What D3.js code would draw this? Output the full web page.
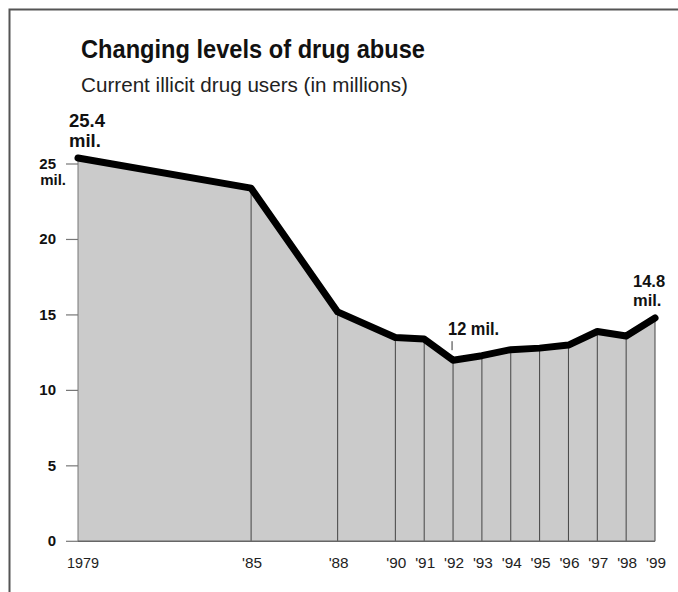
<!DOCTYPE html>
<html>
<head>
<meta charset="utf-8">
<script src="https://cdn.jsdelivr.net/npm/d3@7"></script>
<style>
  html, body { margin: 0; padding: 0; background: #fff; }
  svg { display: block; font-family: "Liberation Sans", Arial, Helvetica, sans-serif; }
</style>
</head>
<body>
<svg id="chart" width="678" height="592"></svg>
<script>
// Survey years and current illicit drug users (millions)
const years = [1979, 1985, 1988, 1990, 1991, 1992, 1993, 1994, 1995, 1996, 1997, 1998, 1999];
const users = [25.4, 23.4, 15.2, 13.5, 13.4, 12.0, 12.3, 12.7, 12.8, 13.0, 13.9, 13.6, 14.8];
const yearLabels = ["1979", "'85", "'88", "'90", "'91", "'92", "'93", "'94", "'95", "'96", "'97", "'98", "'99"];
const yTicks = [0, 5, 10, 15, 20, 25];

const data = years.map((yr, i) => ({ year: yr, value: users[i], label: yearLabels[i] }));

const svg = d3.select("#chart");

const x = d3.scaleLinear().domain([1979, 1999]).range([78, 655]);
const y = d3.scaleLinear().domain([0, 25]).range([541.3, 164]);

// Frame: rule along the top and left edge
svg.append("path")
  .attr("d", "M9.5,592 V9.5 H678")
  .attr("fill", "none")
  .attr("stroke", "#555")
  .attr("stroke-width", 2);

// Title and subtitle
svg.append("text")
  .attr("x", 81).attr("y", 58)
  .attr("font-size", 25).attr("font-weight", "bold")
  .attr("textLength", 344).attr("lengthAdjust", "spacingAndGlyphs")
  .attr("fill", "#111")
  .text("Changing levels of drug abuse");

svg.append("text")
  .attr("x", 81).attr("y", 92)
  .attr("font-size", 20.5)
  .attr("textLength", 327).attr("lengthAdjust", "spacingAndGlyphs")
  .attr("fill", "#222")
  .text("Current illicit drug users (in millions)");

// Shaded area under the curve
const area = d3.area()
  .x(d => x(d.year))
  .y0(y(0))
  .y1(d => y(d.value));

svg.append("path")
  .datum(data)
  .attr("d", area)
  .attr("fill", "#cbcbcb");

// Drop lines at each survey year
svg.append("g")
  .selectAll("line")
  .data(data)
  .join("line")
  .attr("x1", d => x(d.year)).attr("x2", d => x(d.year))
  .attr("y1", d => y(d.value)).attr("y2", y(0))
  .attr("stroke", d => d.year === 1979 ? "#777" : "#444")
  .attr("stroke-width", 1);

// Baseline
svg.append("line")
  .attr("x1", x(1979)).attr("x2", x(1999))
  .attr("y1", y(0)).attr("y2", y(0))
  .attr("stroke", "#666").attr("stroke-width", 1.5);

// Y axis ticks and labels
const yAxis = svg.append("g");
yAxis.selectAll("line")
  .data(yTicks)
  .join("line")
  .attr("x1", 66).attr("x2", x(1979))
  .attr("y1", d => y(d)).attr("y2", d => y(d))
  .attr("stroke", "#777").attr("stroke-width", 1.2);

yAxis.selectAll("text")
  .data(yTicks)
  .join("text")
  .attr("x", 56)
  .attr("y", d => y(d) + 5)
  .attr("text-anchor", "end")
  .attr("font-size", 15).attr("font-weight", "bold")
  .attr("fill", "#111")
  .text(d => d);

yAxis.append("text")
  .attr("x", 66).attr("y", y(25) + 21)
  .attr("text-anchor", "end")
  .attr("font-size", 15).attr("font-weight", "bold")
  .attr("fill", "#111")
  .text("mil.");

// X axis labels
svg.append("g")
  .selectAll("text")
  .data(data)
  .join("text")
  .attr("x", d => x(d.year) + (d.year === 1979 ? 5 : 1))
  .attr("y", 568)
  .attr("text-anchor", "middle")
  .attr("font-size", 15)
  .attr("textLength", d => d.year === 1979 ? 32 : 20)
  .attr("lengthAdjust", "spacingAndGlyphs")
  .attr("fill", "#222")
  .text(d => d.label);

// Trend line
const line = d3.line()
  .x(d => x(d.year))
  .y(d => y(d.value));

svg.append("path")
  .datum(data)
  .attr("d", line)
  .attr("fill", "none")
  .attr("stroke", "#000")
  .attr("stroke-width", 7)
  .attr("stroke-linejoin", "round")
  .attr("stroke-linecap", "round");

// Value annotations
const first = data[0];
const low = data.find(d => d.year === 1992);
const last = data[data.length - 1];

const ann = svg.append("g").attr("font-weight", "bold").attr("fill", "#111");

ann.append("text")
  .attr("x", x(first.year) - 9).attr("y", y(first.value) - 31)
  .attr("font-size", 18.5)
  .text(first.value.toFixed(1));
ann.append("text")
  .attr("x", x(first.year) - 9).attr("y", y(first.value) - 11)
  .attr("font-size", 18.5)
  .text("mil.");

ann.append("text")
  .attr("x", x(last.year) - 22).attr("y", y(last.value) - 31)
  .attr("font-size", 16.5)
  .text(last.value.toFixed(1));
ann.append("text")
  .attr("x", x(last.year) - 22).attr("y", y(last.value) - 12)
  .attr("font-size", 16.5)
  .text("mil.");

ann.append("text")
  .attr("x", x(low.year) - 5).attr("y", y(low.value) - 25)
  .attr("font-size", 18)
  .attr("textLength", 51).attr("lengthAdjust", "spacingAndGlyphs")
  .text(low.value + " mil.");

svg.append("line")
  .attr("x1", x(low.year) - 1).attr("x2", x(low.year) - 1)
  .attr("y1", y(low.value) - 19).attr("y2", y(low.value) - 10)
  .attr("stroke", "#333").attr("stroke-width", 1);
</script>
</body>
</html>
